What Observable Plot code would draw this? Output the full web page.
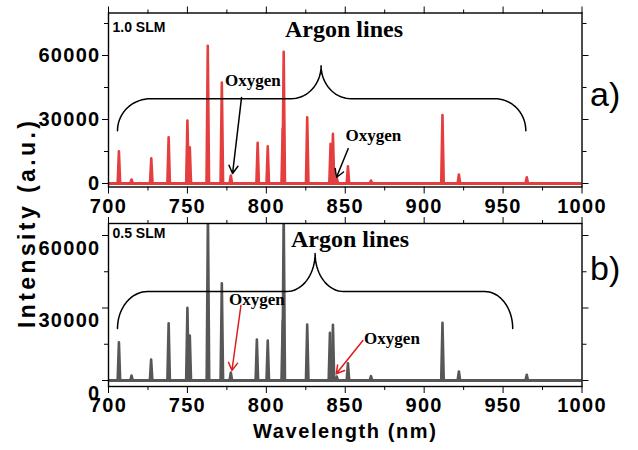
<!DOCTYPE html>
<html><head><meta charset="utf-8">
<script src="https://cdn.jsdelivr.net/npm/d3@7"></script>
<script src="https://cdn.jsdelivr.net/npm/@observablehq/plot@0.6"></script>
<style>
body{margin:0;background:#fff;}
#chart{position:relative;width:638px;height:450px;overflow:hidden;background:#fff;}
#chart svg{position:absolute;left:0;overflow:visible;}
</style></head><body><div id="chart"></div>
<script>
// ---- data ----
const wavelengthTop = [706.6, 714.6, 727.1, 738.1, 750.0, 751.5, 762.9, 771.8, 777.5, 794.5, 800.9, 810.4, 811.0, 825.9, 840.7, 842.2, 844.6, 851.7, 866.3, 911.6, 922.0, 965.0];
const intensityTop  = [15100, 1870, 11830, 21650, 29460, 16970, 64530, 47370, 3740, 19030, 17440, 25720, 61720, 31000, 18560, 23240, 2800, 8090, 1400, 32120, 4210, 2950];
const wavelengthBottom = [706.6, 714.6, 727.0, 738.1, 750.0, 751.5, 763.0, 771.8, 777.5, 794.0, 800.9, 810.4, 811.0, 825.9, 840.3, 842.2, 844.6, 851.7, 866.3, 911.6, 922.0, 965.0];
const intensityBottom  = [15850, 2070, 8690, 23710, 30080, 18620, 70000, 40260, 3310, 16970, 16550, 24830, 70000, 23170, 19740, 23050, 1660, 7160, 1780, 23880, 3720, 2360];

const xMajorTicks = [700, 750, 800, 850, 900, 950, 1000];
const xMinorTicks = [725, 775, 825, 875, 925, 975];
const yMajorTicks = [0, 30000, 60000];
const yMinorTicksTop = [15000, 45000, 75000];
const yMinorTicksBottom = [15000, 45000];

const panelLabels = ["a)", "b)"];
const flowLabels = ["1.0 SLM", "0.5 SLM"];
const argonLabel = "Argon lines";
const oxygenLabel = "Oxygen";
const xTitle = "Wavelength (nm)";
const yTitle = "Intensity (a.u.)";

// annotation anchors in data units
const argonPosTop = {x: 849.2, y: 72240};
const argonPosBottom = {x: 853, y: 58550};
const oxygenPosTop = [{x: 791.5, y: 48160}, {x: 867.8, y: 22450}];
const oxygenPosBottom = [{x: 794, y: 33520}, {x: 879.6, y: 17380}];
const arrowsTop = [{x1: 784.3, y1: 40350, x2: 778.6, y2: 4680}, {x1: 851.9, y1: 16370, x2: 844.4, y2: 2810}];
const arrowsBottom = [{x1: 783.9, y1: 31030, x2: 778.2, y2: 4140}, {x1: 861.2, y1: 16550, x2: 844.3, y2: 2770}];
const braceTop = {xL: 705.7, xs: 726.7, xc: 834.7, dx: 19, xe: 944.7, xR: 964.4, yEnd: 24780, yH: 39750, yC: 55180};
const braceBottom = {xL: 705.7, xs: 724.8, xc: 830.9, dx: 18, xe: 938.3, xR: 956.1, yEnd: 21520, yH: 36830, yC: 52550};
const yTitlePos = {x: 648.5, y: -18470}; // in top panel data units (spans both panels)

// ---- helpers ----
function peakPoints(ws, hs) {
  const pts = [];
  ws.forEach((w, i) => {
    pts.push({x: w - 0.8, y: 0, z: i}, {x: w, y: hs[i], z: i}, {x: w + 0.8, y: 0, z: i});
  });
  return pts;
}
function bracePoints(b) {
  const pts = [], n = 18, q = Math.PI / 2;
  const {xL, xs, xc, dx, xe, xR, yEnd, yH, yC} = b;
  for (let i = 0; i <= n; i++) { const t = i / n * q; pts.push([xs - (xs - xL) * Math.cos(t), yEnd + (yH - yEnd) * Math.sin(t)]); }
  for (let i = 0; i <= n; i++) { const t = i / n * q; pts.push([xc - dx + dx * Math.sin(t), yC - (yC - yH) * Math.cos(t)]); }
  for (let i = 0; i <= n; i++) { const t = i / n * q; pts.push([xc + dx - dx * Math.cos(t), yC - (yC - yH) * Math.sin(t)]); }
  for (let i = 0; i <= n; i++) { const t = i / n * q; pts.push([xe + (xR - xe) * Math.sin(t), yEnd + (yH - yEnd) * Math.cos(t)]); }
  return pts;
}

const sans = "'Liberation Sans', Arial, Helvetica, sans-serif";
const serif = "'Liberation Serif', 'Times New Roman', serif";
const blank = () => "";
const plain = d => String(d);

function panel(cfg) {
  const marks = [
    Plot.ruleY([0], {stroke: cfg.color, strokeWidth: 3}),
    Plot.line(peakPoints(cfg.ws, cfg.hs), {x: "x", y: "y", z: "z", stroke: cfg.color, strokeWidth: 2.6, strokeLinejoin: "round", clip: true}),
    Plot.frame({stroke: "black", strokeWidth: 1.4}),
    // x axes
    Plot.axisX({anchor: "bottom", ticks: xMajorTicks, tickSize: 7, tickPadding: 4.5, tickFormat: plain, fontSize: 20, fontWeight: "bold", fontFamily: sans, label: null}),
    Plot.axisX({anchor: "bottom", ticks: xMinorTicks, tickSize: 4, tickFormat: blank, label: null}),
    Plot.axisX({anchor: "top", ticks: xMajorTicks, tickSize: 7, tickFormat: blank, label: null}),
    Plot.axisX({anchor: "top", ticks: xMinorTicks, tickSize: 4, tickFormat: blank, label: null}),
    // y axes
    Plot.axisY({anchor: "left", ticks: yMajorTicks, tickSize: 6, tickFormat: blank, label: null}),
    Plot.axisY({anchor: "left", ticks: cfg.yMinor, tickSize: 4, tickFormat: blank, label: null}),
    Plot.axisY({anchor: "left", ticks: yMajorTicks, tickSize: 0, tickPadding: 8, dy: cfg.labelDy, tickFormat: plain, fontSize: 20, fontWeight: "bold", fontFamily: sans, label: null}),
    Plot.axisY({anchor: "right", ticks: yMajorTicks, tickSize: 6, tickFormat: blank, label: null}),
    Plot.axisY({anchor: "right", ticks: cfg.yMinor, tickSize: 4, tickFormat: blank, label: null}),
    // annotations
    Plot.line(bracePoints(cfg.brace), {x: d => d[0], y: d => d[1], stroke: "black", strokeWidth: 1.5}),
    Plot.text([cfg.flow], {frameAnchor: "top-left", textAnchor: "start", lineAnchor: "top", dx: 4, dy: cfg.flowDy, fontSize: 14, fontWeight: "bold", fontFamily: sans}),
    Plot.text([argonLabel], {x: () => cfg.argon.x, y: () => cfg.argon.y, fontSize: 24, fontWeight: "bold", fontFamily: serif}),
    Plot.text(cfg.oxygen, {x: "x", y: "y", text: () => oxygenLabel, fontSize: 17, fontWeight: "bold", fontFamily: serif}),
    Plot.arrow(cfg.arrows, {x1: "x1", y1: "y1", x2: "x2", y2: "y2", stroke: cfg.arrowColor, strokeWidth: 1.5, headLength: 9}),
    Plot.text([cfg.panelLabel], {frameAnchor: "right", textAnchor: "start", dx: 8, dy: cfg.panelDy, fontSize: 34, fontFamily: sans})
  ];
  if (cfg.extra) marks.push(...cfg.extra);
  return Plot.plot({
    width: 638, height: cfg.height,
    marginLeft: 108, marginRight: 56.5, marginTop: cfg.mt, marginBottom: cfg.mb,
    x: {domain: [700, 1000]},
    y: {domain: cfg.yDomain},
    style: {background: "transparent", fontFamily: sans, color: "black", overflow: "visible"},
    marks
  });
}

const topPlot = panel({
  height: 225, mt: 12.5, mb: 38.5, yDomain: [-1640, 79920], yMinor: yMinorTicksTop, labelDy: 0,
  ws: wavelengthTop, hs: intensityTop, color: "#e53e3e", arrowColor: "black",
  brace: braceTop, flow: flowLabels[0], flowDy: 9, argon: argonPosTop, oxygen: oxygenPosTop, arrows: arrowsTop,
  panelLabel: panelLabels[0], panelDy: -5,
  extra: [Plot.text([yTitle], {x: () => yTitlePos.x, y: () => yTitlePos.y, rotate: -90, fontSize: 23, fontWeight: "bold", fontFamily: sans})]
});
const bottomPlot = panel({
  height: 250, mt: 23, mb: 64, yDomain: [-2480, 64970], yMinor: yMinorTicksBottom, labelDy: 13,
  ws: wavelengthBottom, hs: intensityBottom, color: "#575757", arrowColor: "#e01b1b",
  brace: braceBottom, flow: flowLabels[1], flowDy: 5, argon: argonPosBottom, oxygen: oxygenPosBottom, arrows: arrowsBottom,
  panelLabel: panelLabels[1], panelDy: -36,
  extra: [Plot.text([xTitle], {frameAnchor: "bottom", dy: 51, fontSize: 20, fontWeight: "bold", fontFamily: sans})]
});

function spacing(svg) {
  svg.querySelectorAll("text").forEach(t => {
    const s = t.textContent.trim();
    if (/^\d+$/.test(s)) t.style.letterSpacing = "1.3px";
    else if (s === xTitle) t.style.letterSpacing = "1.6px";
    else if (s === yTitle) t.style.letterSpacing = "3.4px";
  });
}
spacing(topPlot); spacing(bottomPlot);
topPlot.style.top = "0px";
bottomPlot.style.top = "200px";
const chart = document.getElementById("chart");
chart.appendChild(bottomPlot);
chart.appendChild(topPlot);
</script></body></html>
